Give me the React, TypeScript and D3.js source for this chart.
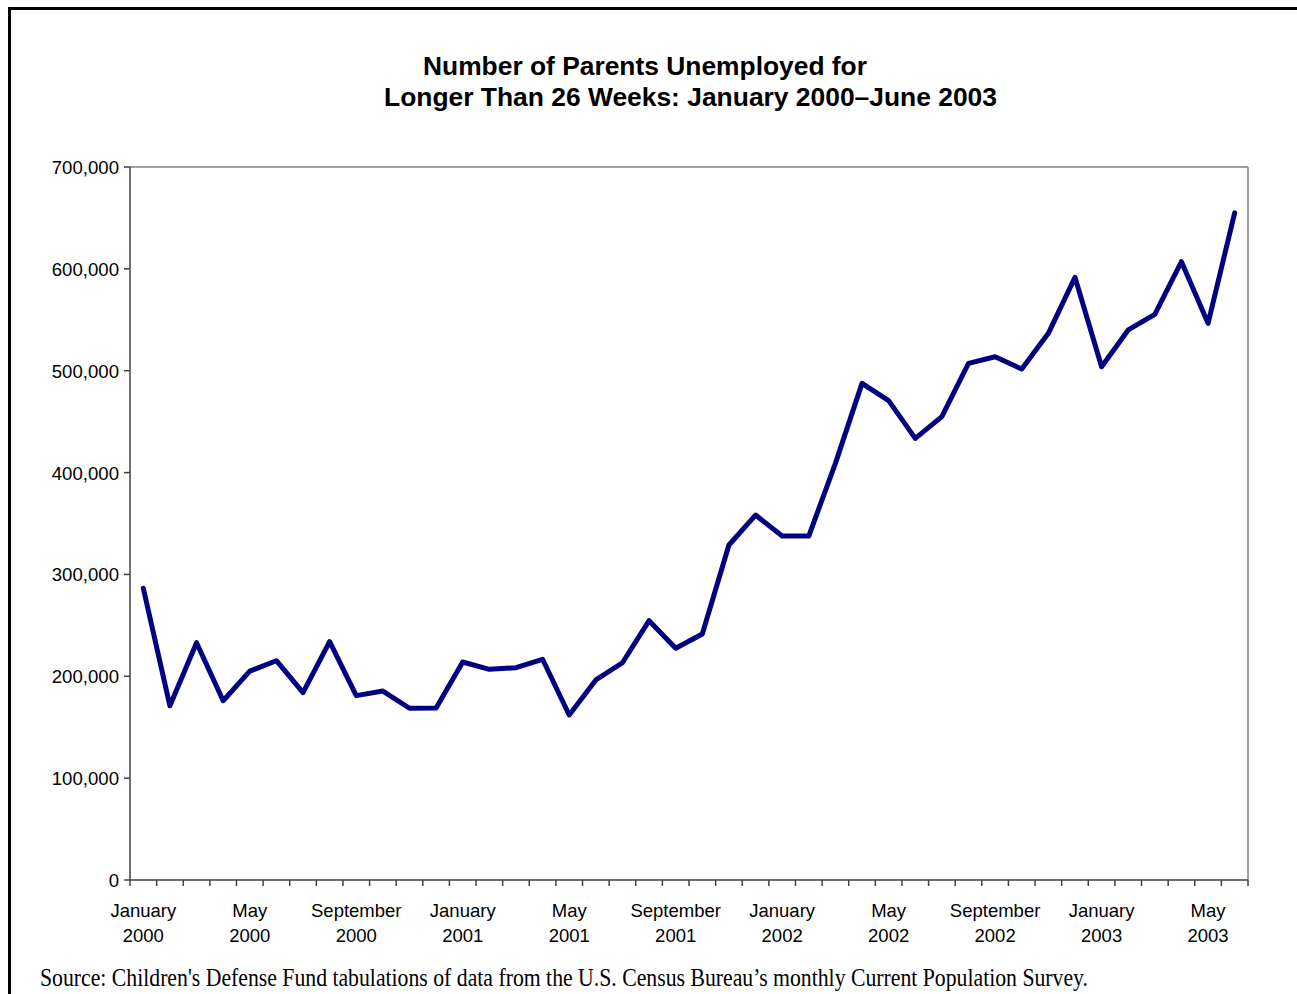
import React from "react";
import * as d3 from "d3";

const months: string[] = [
  "2000-01","2000-02","2000-03","2000-04","2000-05","2000-06","2000-07","2000-08","2000-09","2000-10","2000-11","2000-12",
  "2001-01","2001-02","2001-03","2001-04","2001-05","2001-06","2001-07","2001-08","2001-09","2001-10","2001-11","2001-12",
  "2002-01","2002-02","2002-03","2002-04","2002-05","2002-06","2002-07","2002-08","2002-09","2002-10","2002-11","2002-12",
  "2003-01","2003-02","2003-03","2003-04","2003-05","2003-06",
];

const values: number[] = [
  286500, 171000, 233000, 176000, 205000, 215300, 183900, 234000, 181000, 185500, 168600, 168800,
  214000, 206800, 208400, 216700, 162000, 196400, 213300, 254600, 227500, 241500, 328900, 358300,
  337700, 337700, 409000, 487600, 470600, 433600, 454900, 507200, 513700, 501600, 536700, 591700,
  503900, 540000, 555400, 607000, 546500, 655000,
];

const tickLabels: { month: string; line1: string; line2: string }[] = [
  { month: "2000-01", line1: "January", line2: "2000" },
  { month: "2000-05", line1: "May", line2: "2000" },
  { month: "2000-09", line1: "September", line2: "2000" },
  { month: "2001-01", line1: "January", line2: "2001" },
  { month: "2001-05", line1: "May", line2: "2001" },
  { month: "2001-09", line1: "September", line2: "2001" },
  { month: "2002-01", line1: "January", line2: "2002" },
  { month: "2002-05", line1: "May", line2: "2002" },
  { month: "2002-09", line1: "September", line2: "2002" },
  { month: "2003-01", line1: "January", line2: "2003" },
  { month: "2003-05", line1: "May", line2: "2003" },
];

const yTicks: number[] = [0, 100000, 200000, 300000, 400000, 500000, 600000, 700000];

const titleLines: string[] = [
  "Number of Parents Unemployed for",
  "Longer Than 26 Weeks: January 2000\u2013June 2003",
];
const sourceText =
  "Source: Children's Defense Fund tabulations of data from the U.S. Census Bureau\u2019s monthly Current Population Survey.";

export default function App() {
  const W = 1297, H = 994;
  const left = 130, right = 1248, top = 167, bottom = 880;
  const x = d3.scaleBand<string>().domain(months).range([left, right]).paddingInner(0).paddingOuter(0);
  const y = d3.scaleLinear().domain([0, 700000]).range([bottom, top]);
  const cx = (m: string) => (x(m) as number) + x.bandwidth() / 2;
  const line = d3.line<number>().x((_, i) => cx(months[i])).y((d) => y(d));
  const fmt = d3.format(",");
  const sans = "Arial, 'Liberation Sans', sans-serif";
  const boundaries = months.map((m) => x(m) as number).concat([right]);

  return (
    <svg width={W} height={H} style={{ position: "absolute", left: 0, top: 0, background: "#fff" }}>
      <rect x={0} y={0} width={W} height={H} fill="#fff" />
      <rect x={9.5} y={8.5} width={W + 20} height={H + 20} fill="none" stroke="#000" strokeWidth={3} />
      <g fontFamily={sans} fontWeight="bold" fontSize={25.5} fill="#000">
        <text x={423} y={75} textLength={444} lengthAdjust="spacingAndGlyphs">{titleLines[0]}</text>
        <text x={384} y={106} textLength={613} lengthAdjust="spacingAndGlyphs">{titleLines[1]}</text>
      </g>
      {/* plot border */}
      <line x1={left} y1={top} x2={right} y2={top} stroke="#808080" strokeWidth={1.5} />
      <line x1={right} y1={top} x2={right} y2={bottom} stroke="#808080" strokeWidth={1.5} />
      <line x1={left} y1={top} x2={left} y2={bottom} stroke="#404040" strokeWidth={1.5} />
      <line x1={left} y1={bottom} x2={right} y2={bottom} stroke="#404040" strokeWidth={1.5} />
      {/* y ticks */}
      <g fontFamily={sans} fontSize={18.6} fill="#000">
        {yTicks.map((t) => (
          <g key={t}>
            <line x1={left - 6} x2={left} y1={y(t)} y2={y(t)} stroke="#404040" strokeWidth={1.5} />
            <text x={left - 11} y={y(t) + 7} textAnchor="end">{fmt(t)}</text>
          </g>
        ))}
      </g>
      {/* x ticks */}
      {boundaries.map((b, i) => (
        <line key={i} x1={b} x2={b} y1={bottom} y2={bottom + 6} stroke="#404040" strokeWidth={1.5} />
      ))}
      <g fontFamily={sans} fontSize={18.5} fill="#000" textAnchor="middle">
        {tickLabels.map((t) => (
          <g key={t.month}>
            <text x={cx(t.month)} y={917}>{t.line1}</text>
            <text x={cx(t.month)} y={942}>{t.line2}</text>
          </g>
        ))}
      </g>
      <path d={line(values) as string} fill="none" stroke="#000080" strokeWidth={5} strokeLinejoin="round" strokeLinecap="round" />
      <text x={40} y={986} fontFamily="'Liberation Serif', 'Times New Roman', serif" fontSize={25.5} fill="#000" textLength={1048} lengthAdjust="spacingAndGlyphs">
        {sourceText}
      </text>
    </svg>
  );
}
